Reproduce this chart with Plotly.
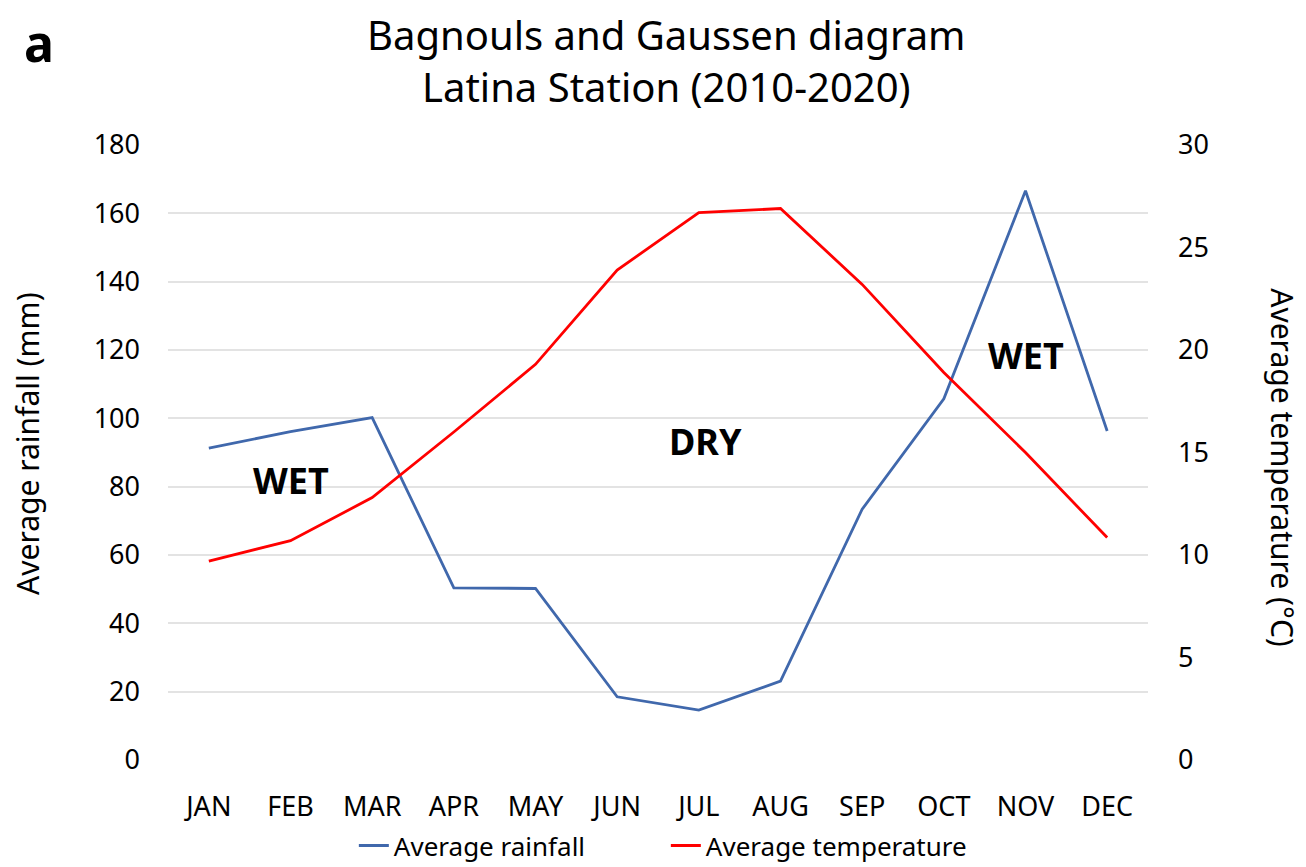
import plotly.graph_objects as go

months = ["JAN", "FEB", "MAR", "APR", "MAY", "JUN", "JUL", "AUG", "SEP", "OCT", "NOV", "DEC"]
rainfall = [91.3, 96.1, 100.2, 50.4, 50.2, 18.5, 14.6, 23.1, 73.4, 105.7, 166.6, 96.3]
temperature = [9.7, 10.7, 12.8, 16.0, 19.3, 23.9, 26.7, 26.9, 23.2, 18.9, 15.0, 10.85]
left_ticks = [0, 20, 40, 60, 80, 100, 120, 140, 160, 180]
right_ticks = [0, 5, 10, 15, 20, 25, 30]

FONT = "Noto Sans"
BLUE = "#4068AC"
RED = "#FF0000"

fig = go.Figure()
fig.add_trace(go.Scatter(x=months, y=rainfall, mode="lines", name="Average rainfall",
                         line=dict(color=BLUE, width=2.8), yaxis="y"))
fig.add_trace(go.Scatter(x=months, y=temperature, mode="lines", name="Average temperature",
                         line=dict(color=RED, width=2.8), yaxis="y2"))

fig.update_layout(
    width=1306, height=867,
    paper_bgcolor="white", plot_bgcolor="white",
    margin=dict(l=160, r=166, t=137, b=115, autoexpand=False),
    font=dict(family=FONT, color="#000000", size=27),
    showlegend=True,
    legend=dict(orientation="h", x=0.508, xanchor="center", y=-0.101, yanchor="top",
                font=dict(size=26), itemwidth=30, tracegroupgap=0,
                entrywidth=267, entrywidthmode="pixels"),
    xaxis=dict(type="category", range=[-0.5, 11.5], showgrid=False, showline=False, ticks="",
               tickfont=dict(size=27), ticklabelstandoff=28),
    yaxis=dict(range=[0, 180], tickvals=left_ticks, showgrid=True, gridcolor="#E3E3E3",
               gridwidth=1.5, zeroline=False, showline=False, ticks="",
               tickfont=dict(size=27), ticklabelstandoff=27),
    yaxis2=dict(range=[0, 30], tickvals=right_ticks, overlaying="y", side="right",
                showgrid=False, zeroline=False, showline=False, ticks="",
                tickfont=dict(size=27), ticklabelstandoff=29),
    annotations=[
        dict(text="Bagnouls and Gaussen diagram<br>Latina Station (2010-2020)",
             xref="paper", yref="paper", x=0.5, xshift=8, y=1.0, yshift=85, xanchor="center",
             yanchor="middle", showarrow=False, font=dict(size=40)),
        dict(text="<b>a</b>", xref="paper", yref="paper", x=0, xshift=-129, y=1.0, yshift=102,
             xanchor="center", yanchor="middle", showarrow=False, font=dict(size=50)),
        dict(text="Average rainfall (mm)", xref="paper", yref="paper", x=0, xshift=-140, y=0.514,
             xanchor="center", yanchor="middle", textangle=-90, showarrow=False, font=dict(size=30)),
        dict(text="Average temperature (°C)", xref="paper", yref="paper", x=1, xshift=135, y=0.476,
             xanchor="center", yanchor="middle", textangle=90, showarrow=False, font=dict(size=30)),
        dict(text="<b>WET</b>", x="FEB", y=81.7, xref="x", yref="y", showarrow=False, font=dict(size=36)),
        dict(text="<b>DRY</b>", x="JUL", xshift=7, y=93.1, xref="x", yref="y", showarrow=False, font=dict(size=36)),
        dict(text="<b>WET</b>", x="NOV", y=118.3, xref="x", yref="y", showarrow=False, font=dict(size=36)),
    ],
)

fig.write_html("out.html")
